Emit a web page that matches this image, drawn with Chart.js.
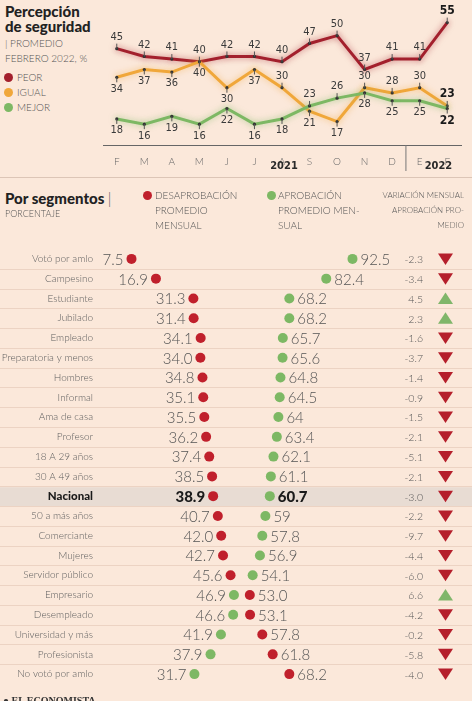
<!DOCTYPE html>
<html lang="es">
<head>
<meta charset="utf-8">
<script src="https://cdn.jsdelivr.net/npm/chart.js@4"></script>
<style>
  html, body { margin: 0; padding: 0; }
  body { width: 472px; height: 701px; overflow: hidden; position: relative; background: #fbe8da; font-family: Lato, 'Noto Sans', sans-serif; color: #555; }
  .abs { position: absolute; white-space: nowrap; }
  .title { font-weight: 900; font-size: 15px; line-height: 15px; color: #222; }
  .small { font-weight: 300; font-size: 10px; line-height: 15px; color: #555; }
  .tiny { font-weight: 300; font-size: 8px; line-height: 15px; color: #555; text-align: right; }
  .dot { position: absolute; width: 9px; height: 9px; border-radius: 50%; }
  .box { position: absolute; left: 0; width: 472px; }
</style>
</head>
<body>
  <!-- cabecera: percepción de seguridad -->
  <div class="abs title" style="left:5px;top:4px">Percepción<br>de seguridad</div>
  <div class="abs small" style="left:5px;top:36px">| PROMEDIO<br>FEBRERO 2022, %</div>
  <div class="dot" style="left:4px;top:73px;background:#a3202d"></div>
  <div class="abs small" style="left:17px;top:70px">PEOR</div>
  <div class="dot" style="left:4px;top:88px;background:#f0a73a"></div>
  <div class="abs small" style="left:17px;top:85px">IGUAL</div>
  <div class="dot" style="left:4px;top:103px;background:#7db864"></div>
  <div class="abs small" style="left:17px;top:100px">MEJOR</div>

  <div class="box" style="top:0;height:178px"><canvas id="js-lineChart"></canvas></div>
  <div class="box" style="top:177px;height:1px;background:#dcc5b6"></div>

  <!-- cabecera: por segmentos -->
  <div class="abs" style="left:5px;top:189px;font-weight:900;font-size:15px;color:#222">Por segmentos <span style="font-weight:300;color:#555">|</span></div>
  <div class="abs small" style="left:5px;top:206px;font-size:9px">PORCENTAJE</div>
  <div class="dot" style="left:143px;top:191px;background:#c0202c"></div>
  <div class="abs small" style="left:155px;top:188px">DESAPROBACIÓN<br>PROMEDIO<br>MENSUAL</div>
  <div class="dot" style="left:267px;top:191px;background:#7db864"></div>
  <div class="abs small" style="left:278px;top:188px">APROBACIÓN<br>PROMEDIO MEN-<br>SUAL</div>
  <div class="abs tiny" style="right:8px;top:188px">VARIACIÓN MENSUAL<br>APROBACIÓN PRO-<br>MEDIO</div>

  <div class="box" style="top:232px;height:469px"><canvas id="js-segChart"></canvas></div>

  <div class="abs" style="left:3px;top:695px;font:bold 10px 'Liberation Serif', serif;color:#333">● EL ECONOMISTA</div>

<script>
'use strict'

// percepción de seguridad, promedio mensual (%)
const meses = ['F', 'M', 'A', 'M', 'J', 'J', 'A', 'S', 'O', 'N', 'D', 'E', 'F']
const peor = [45, 42, 41, 40, 42, 42, 40, 47, 50, 37, 41, 41, 55]
const igual = [34, 37, 36, 40, 30, 37, 30, 21, 17, 30, 28, 30, 23]
const mejor = [18, 16, 19, 16, 22, 16, 18, 23, 26, 28, 25, 25, 22]

// por segmentos (%), tal como se imprimen
const segmentos = [
  'Votó por amlo', 'Campesino', 'Estudiante', 'Jubilado', 'Empleado', 'Preparatoria y menos',
  'Hombres', 'Informal', 'Ama de casa', 'Profesor', '18 A 29 años', '30 A 49 años', 'Nacional',
  '50 a más años', 'Comerciante', 'Mujeres', 'Servidor público', 'Empresario', 'Desempleado',
  'Universidad y más', 'Profesionista', 'No votó por amlo'
]
const desaprobacion = ['7.5', '16.9', '31.3', '31.4', '34.1', '34.0', '34.8', '35.1', '35.5', '36.2', '37.4', '38.5', '38.9',
  '40.7', '42.0', '42.7', '45.6', '53.0', '53.1', '57.8', '61.8', '68.2']
const aprobacion = ['92.5', '82.4', '68.2', '68.2', '65.7', '65.6', '64.8', '64.5', '64', '63.4', '62.1', '61.1', '60.7',
  '59', '57.8', '56.9', '54.1', '46.9', '46.6', '41.9', '37.9', '31.7']
const variacion = [-2.3, -3.4, 4.5, 2.3, -1.6, -3.7, -1.4, -0.9, -1.5, -2.1, -5.1, -2.1, -3.0,
  -2.2, -9.7, -4.4, -6.0, 6.6, -4.2, -0.2, -5.8, -4.0]

const colors = {
  peor: '#a3202d',
  igual: '#f0a73a',
  mejor: '#7db864',
  rojo: '#c0202c',
  text: '#555',
  dark: '#1a1a1a',
  rule: '#ecd3c3',
  band: '#e8dcd3'
}
const condensed = "'DejaVu Sans Condensed', 'Liberation Sans Narrow', sans-serif"

/**
 * Percepción de seguridad — líneas
 */
const glowPlugin = {
  id: 'glow',
  beforeDatasetDraw(chart, args) {
    const ctx = chart.ctx
    ctx.save()
    ctx.shadowColor = args.meta.dataset.options.borderColor + '90'
    ctx.shadowBlur = 6
  },
  afterDatasetDraw(chart) {
    chart.ctx.restore()
  }
}

const pointLabelPlugin = {
  id: 'pointLabels',
  afterDatasetsDraw(chart) {
    const ctx = chart.ctx
    chart.data.datasets.forEach((ds, i) => {
      const meta = chart.getDatasetMeta(i)
      meta.data.forEach((pt, j) => {
        const last = j === meta.data.length - 1
        const dir = ds.labelPos[j] === 'top' ? -1 : 1
        // pequeña marca hacia la etiqueta
        ctx.strokeStyle = '#555'
        ctx.lineWidth = 1
        ctx.beginPath()
        ctx.moveTo(pt.x, pt.y)
        ctx.lineTo(pt.x, pt.y + dir * 5)
        ctx.stroke()
        ctx.fillStyle = last ? colors.dark : '#3a3a3a'
        ctx.font = (last ? 'bold 12px ' : '11px ') + condensed
        ctx.textAlign = 'center'
        ctx.textBaseline = dir < 0 ? 'bottom' : 'top'
        ctx.fillText(ds.data[j], pt.x, pt.y + dir * 6)
      })
    })
  }
}

const yearPlugin = {
  id: 'years',
  afterDraw(chart) {
    const ctx = chart.ctx
    const x = chart.scales.x
    const sep = (x.getPixelForValue(10) + x.getPixelForValue(11)) / 2
    ctx.save()
    ctx.strokeStyle = '#777'
    ctx.lineWidth = 1
    ctx.beginPath()
    ctx.moveTo(sep, x.top)
    ctx.lineTo(sep, x.top + 26)
    ctx.stroke()
    ctx.fillStyle = '#2a2a2a'
    ctx.font = 'bold 11px ' + condensed
    ctx.textAlign = 'center'
    ctx.textBaseline = 'middle'
    ctx.fillText('2021', x.getPixelForValue(6) + 2, x.top + 21)
    ctx.fillText('2022', (x.getPixelForValue(11) + x.getPixelForValue(12)) / 2 + 5, x.top + 21)
    ctx.restore()
  }
}

const createLineChart = () => {
  const serie = (label, data, color, labelPos) => ({
    label, data, labelPos,
    borderColor: color,
    borderWidth: 3,
    tension: 0,
    pointRadius: 1.6,
    pointBackgroundColor: '#333',
    pointBorderWidth: 0
  })

  new Chart(document.getElementById('js-lineChart'), {
    type: 'line',
    data: {
      labels: meses,
      datasets: [
        serie('MEJOR', mejor, colors.mejor,
          ['bottom', 'bottom', 'bottom', 'bottom', 'bottom', 'bottom', 'bottom', 'top', 'top', 'bottom', 'bottom', 'bottom', 'bottom']),
        serie('IGUAL', igual, colors.igual,
          ['bottom', 'bottom', 'bottom', 'bottom', 'bottom', 'bottom', 'top', 'bottom', 'bottom', 'top', 'top', 'top', 'top']),
        serie('PEOR', peor, colors.peor, meses.map(() => 'top'))
      ]
    },
    options: {
      responsive: true,
      maintainAspectRatio: false,
      animation: false,
      layout: { padding: { left: 103, right: 11, top: 7, bottom: 0 } },
      plugins: { legend: { display: false }, tooltip: { enabled: false } },
      scales: {
        x: {
          offset: true,
          grid: { display: false },
          border: { display: true, color: '#666', width: 1 },
          ticks: { color: '#666', padding: 3, font: { family: 'Lato', size: 10, weight: '300' }, maxRotation: 0 },
          afterFit: (scale) => { scale.height = 33 }
        },
        y: { display: false, min: 8, max: 61 }
      }
    },
    plugins: [glowPlugin, pointLabelPlugin, yearPlugin]
  })
}

/**
 * Por segmentos — puntos de aprobación / desaprobación
 */
const rowsPlugin = {
  id: 'rows',
  beforeDraw(chart) {
    const ctx = chart.ctx
    const y = chart.scales.y
    const step = y.getPixelForValue(1) - y.getPixelForValue(0)
    ctx.save()
    segmentos.forEach((seg, i) => {
      const c = y.getPixelForValue(i)
      if (seg === 'Nacional') {
        ctx.fillStyle = colors.band
        ctx.fillRect(0, c - step / 2 + 1, chart.width, step - 1)
      }
      if (i < segmentos.length - 1) {
        ctx.strokeStyle = colors.rule
        ctx.lineWidth = 1
        ctx.beginPath()
        ctx.moveTo(0, Math.round(c + step / 2) + 0.5)
        ctx.lineTo(chart.width, Math.round(c + step / 2) + 0.5)
        ctx.stroke()
      }
    })
    ctx.restore()
  }
}

const valueLabelPlugin = {
  id: 'valueLabels',
  afterDatasetsDraw(chart) {
    const ctx = chart.ctx
    const rojo = chart.getDatasetMeta(0).data
    const verde = chart.getDatasetMeta(1).data
    ctx.save()
    ctx.textBaseline = 'middle'
    segmentos.forEach((seg, i) => {
      const nacional = seg === 'Nacional'
      const pares = [[rojo[i], desaprobacion[i]], [verde[i], aprobacion[i]]].sort((a, b) => a[0].x - b[0].x)
      ctx.font = nacional ? '900 15px Lato' : '300 15px Lato'
      ctx.fillStyle = nacional ? colors.dark : colors.text
      ctx.textAlign = 'right'
      ctx.fillText(pares[0][1], pares[0][0].x - 8, pares[0][0].y + 1)
      ctx.textAlign = 'left'
      ctx.fillText(pares[1][1], pares[1][0].x + 8, pares[1][0].y + 1)

      // variación mensual
      const cy = pares[0][0].y
      const v = variacion[i]
      ctx.font = '300 10.5px Lato'
      ctx.fillStyle = colors.text
      ctx.textAlign = 'right'
      ctx.fillText(v.toFixed(1), 423, cy + 1)
      ctx.fillStyle = v < 0 ? '#b51f2b' : '#80b66a'
      ctx.beginPath()
      if (v < 0) {
        ctx.moveTo(438, cy - 5.5)
        ctx.lineTo(453, cy - 5.5)
        ctx.lineTo(445.5, cy + 6)
      } else {
        ctx.moveTo(438, cy + 5.5)
        ctx.lineTo(453, cy + 5.5)
        ctx.lineTo(445.5, cy - 6)
      }
      ctx.closePath()
      ctx.fill()
    })
    ctx.restore()
  }
}

const createSegChart = () => {
  const puntos = (label, data, color) => ({
    label,
    data: data.map(Number),
    showLine: false,
    pointRadius: 5,
    pointBackgroundColor: color,
    pointBorderWidth: 0
  })

  new Chart(document.getElementById('js-segChart'), {
    type: 'line',
    data: {
      labels: segmentos,
      datasets: [
        puntos('Desaprobación', desaprobacion, colors.rojo),
        puntos('Aprobación', aprobacion, colors.mejor)
      ]
    },
    options: {
      indexAxis: 'y',
      responsive: true,
      maintainAspectRatio: false,
      animation: false,
      layout: { padding: { left: 0, right: 100, top: 0, bottom: 4 } },
      plugins: { legend: { display: false }, tooltip: { enabled: false } },
      scales: {
        x: { type: 'linear', display: false, min: 0, max: 100 },
        y: {
          type: 'category',
          offset: true,
          grid: { display: false },
          border: { display: false },
          ticks: {
            padding: 11,
            color: (c) => c.tick && c.tick.label === 'Nacional' ? colors.dark : '#5e5e5e',
            font: (c) => c.tick && c.tick.label === 'Nacional'
              ? { family: 'Lato', size: 11.5, weight: '900' }
              : { family: 'Lato', size: 10, weight: '300' }
          },
          afterFit: (scale) => { scale.width = 112 }
        }
      }
    },
    plugins: [rowsPlugin, valueLabelPlugin]
  })
}

createLineChart()
createSegChart()
</script>
</body>
</html>
